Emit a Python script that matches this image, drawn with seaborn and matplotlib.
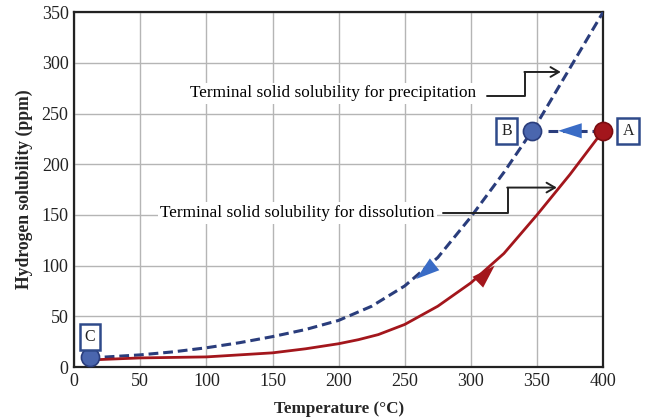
import numpy as np
import pandas as pd
import matplotlib
matplotlib.use("Agg")
import matplotlib.pyplot as plt
import seaborn as sns

# Curve values (temperature in C, solubility in ppm)
precip_temp = [12, 25, 50, 75, 100, 125, 150, 175, 200, 225, 250, 275, 300, 325, 350, 375, 400]
precip_ppm = [9, 10, 12, 15, 19, 24, 30, 37, 46, 60, 80, 108, 148, 192, 240, 295, 350]

dissol_temp = [12, 50, 100, 150, 175, 200, 215, 230, 250, 275, 300, 325, 350, 375, 400]
dissol_ppm = [7, 9, 10, 14, 18, 23, 27, 32, 42, 60, 83, 112, 150, 190, 233]

# Marked states
point_names = ["A", "B", "C"]
point_temp = [400, 346, 12]
point_ppm = [233, 233, 10]
label_temp = [419, 327, 12]
label_ppm = [233, 233, 30]

x_ticks = [0, 50, 100, 150, 200, 250, 300, 350, 400]
y_ticks = [0, 50, 100, 150, 200, 250, 300, 350]

precip_df = pd.DataFrame({"T": precip_temp, "H": precip_ppm})
dissol_df = pd.DataFrame({"T": dissol_temp, "H": dissol_ppm})

NAVY = "#2a3d7c"
RED = "#a3161c"
BRIGHT = "#3a6cc6"
PT_BLUE = "#4a66ae"

sns.set_style("whitegrid")
plt.rcParams["font.family"] = ["Liberation Serif", "DejaVu Serif"]

fig = plt.figure(figsize=(6.45, 4.19), dpi=100)
ax = fig.add_axes([0.115, 0.124, 0.82, 0.847])

sns.lineplot(data=precip_df, x="T", y="H", ax=ax, color=NAVY, lw=2.2,
             linestyle=(0, (3.2, 1.6)), zorder=3)
sns.lineplot(data=dissol_df, x="T", y="H", ax=ax, color=RED, lw=2.0, zorder=3)

head = dict(arrowstyle="-|>,head_length=1.0,head_width=0.32", lw=0,
            shrinkA=0, shrinkB=0, mutation_scale=17)

# direction arrowheads on the curves
ax.annotate("", xy=(258.6, 86.8), xytext=(269, 97.6),
            arrowprops=dict(color=BRIGHT, **head), zorder=5)
ax.annotate("", xy=(318, 100), xytext=(308.5, 87.8),
            arrowprops=dict(color=RED, **head), zorder=5)

# A -> B step
ax.plot([358, 394], [233, 233], color=NAVY, lw=2.2, linestyle=(0, (3.2, 1.6)), zorder=3)
ax.annotate("", xy=(366, 233), xytext=(382, 233),
            arrowprops=dict(color=BRIGHT, **head), zorder=5)

# points
pt_colors = [RED, PT_BLUE, PT_BLUE]
edge_colors = ["#7a0c10", NAVY, NAVY]
for n, x, y, c, ec, lx, ly in zip(point_names, point_temp, point_ppm, pt_colors,
                                  edge_colors, label_temp, label_ppm):
    ax.scatter([x], [y], s=170, color=c, edgecolor=ec, lw=1.2, zorder=6, clip_on=False)
    ax.text(lx, ly, n, ha="center", va="center", fontsize=11.5, color="#222222", zorder=7,
            bbox=dict(boxstyle="square,pad=0.32", fc="white", ec="#2f4a8a", lw=1.8),
            clip_on=False)

# callouts
ax.text(196, 270, "Terminal solid solubility for precipitation", ha="center", va="center",
        fontsize=12.4, color="black", zorder=4,
        bbox=dict(boxstyle="square,pad=0.15", fc="white", ec="none"))
ax.plot([312, 341, 341], [267, 267, 291], color="#222222", lw=1.4, zorder=4)
ax.annotate("", xy=(368, 291), xytext=(340.5, 291),
            arrowprops=dict(arrowstyle="->,head_length=0.6,head_width=0.35",
                            color="#222222", lw=1.4, shrinkA=0, shrinkB=0), zorder=4)

ax.text(169, 152, "Terminal solid solubility for dissolution", ha="center", va="center",
        fontsize=12.4, color="black", zorder=4,
        bbox=dict(boxstyle="square,pad=0.15", fc="white", ec="none"))
ax.plot([279, 328, 328], [152, 152, 177], color="#222222", lw=1.4, zorder=4)
ax.annotate("", xy=(365, 177), xytext=(327.5, 177),
            arrowprops=dict(arrowstyle="->,head_length=0.6,head_width=0.35",
                            color="#222222", lw=1.4, shrinkA=0, shrinkB=0), zorder=4)

ax.set_xlim(0, 400)
ax.set_ylim(0, 350)
ax.set_xticks(x_ticks)
ax.set_yticks(y_ticks)
ax.tick_params(length=0, labelsize=13, pad=4, colors="#222222")
ax.grid(True, color="#b5b5b5", lw=1.0)
for s in ax.spines.values():
    s.set_color("#222222")
    s.set_linewidth(1.6)
    s.set_visible(True)

ax.set_xlabel("Temperature (°C)", fontsize=12.3, fontweight="bold", labelpad=8)
ax.set_ylabel("Hydrogen solubility (ppm)", fontsize=12.7, fontweight="bold", labelpad=6)

fig.savefig("out.png", dpi=100)
